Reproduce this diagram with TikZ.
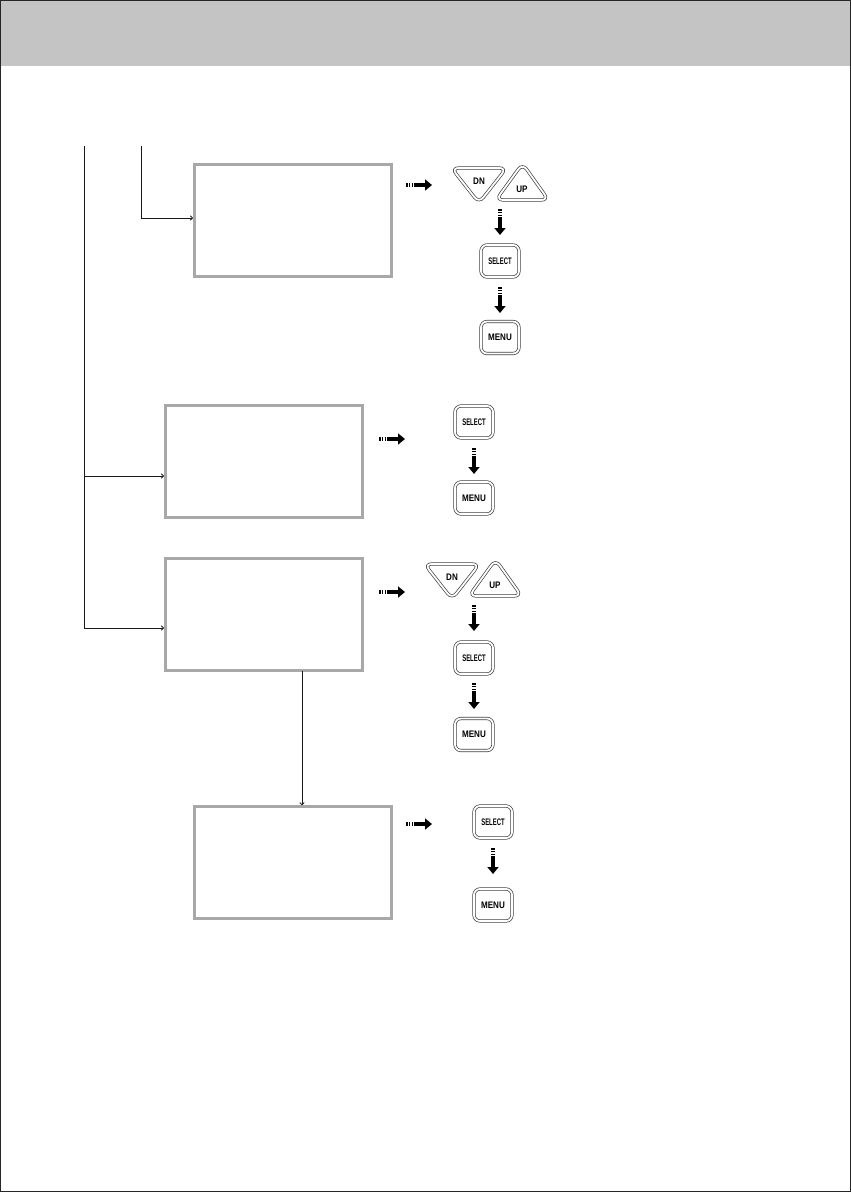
\documentclass[tikz,border=0pt]{standalone}
\usepackage{fontspec}
\setmainfont{Liberation Sans}
\usepackage{xcolor}
\usetikzlibrary{arrows.meta,calc,positioning}
\definecolor{headergray}{RGB}{196, 196, 196}
\definecolor{boxgray}{RGB}{168, 168, 168}
\tikzset{
    menubox/.style={draw=boxgray,line width=3pt,minimum width=197pt,minimum height=112.5pt,inner sep=0pt,outer sep=0pt},
    keyline/.style={draw=black!75,line width=0.7pt,double=white,double distance=1.8pt},
    keybtn/.style={keyline,rounded corners=6pt,minimum width=38pt,minimum height=32pt,inner sep=0pt,font=\bfseries\fontsize{9.5}{10}\selectfont},
    keytext/.style={inner sep=0pt,font=\bfseries\fontsize{9.5}{10}\selectfont},
    wire/.style={black!90,line width=0.8pt,-{To[length=3pt,width=5pt]}},
    fattail/.style={black,line width=4pt,dash pattern=on 1.6pt off 1.2pt},
    fathead/.style={black,line width=4pt,-{Triangle[length=7pt,width=11pt]}}
}
% SELECT is printed narrow
\newcommand{\seltext}{\raisebox{-1.2pt}{\scalebox{0.62}[1]{SELECT}}}
\newcommand{\mentext}{\raisebox{-1.2pt}{\scalebox{0.85}[1]{MENU}}}
% pair of triangle keys: name prefix, then left corner of the pair
\newcommand{\dnupkeys}[3]{
    \begin{scope}[shift={(#2,#3)}]
        \draw[keyline,rounded corners=7pt] (-1.5,1) -- (53.5,1) -- (26,36) -- cycle;
        \draw[keyline,rounded corners=7pt] (43,33) -- (95.5,33) -- (69.5,-3.5) -- cycle;
        \node[keytext] (#1dn) at (26,14) {\scalebox{0.85}[1]{DN}};
        \node[keytext] (#1up) at (69,22) {\scalebox{0.85}[1]{UP}};
    \end{scope}
}
% striped arrow between two points
\newcommand{\fatarrow}[2]{
    \draw[fattail] (#1) -- ($(#1)!0.38!(#2)$);
    \draw[fathead] ($(#1)!0.38!(#2)$) -- (#2);
}
\begin{document}
\begin{tikzpicture}[x=1pt,y=-1pt]
    \useasboundingbox (0,0) rectangle (851,1192);
    % page and header band
    \fill[headergray] (0,0) rectangle (851,66);
    \draw[black!85,line width=1pt] (0.5,0.5) rectangle (850.5,1191.5);

    % menu boxes
    \node[menubox] (box1) at (292.5,220.5) {};
    \node[menubox] (box2) at (263.5,461.5) {};
    \node[menubox] (box3) at (263.5,614.5) {};
    \node[menubox] (box4) at (292.5,862.5) {};

    % lines coming from the previous page
    \coordinate (trunk) at (84,146);
    \coordinate (feed) at (141,146);
    \draw[wire] (feed) |- ($(box1.west)+(-1,-2.5)$);
    \draw[wire] (trunk) |- ($(box2.west)+(-1,14.5)$);
    \draw[wire] (trunk) |- ($(box3.west)+(-1,13.5)$);
    \draw[wire] ($(box3.south)+(38.5,0)$) -- ($(box4.north)+(9.5,-1)$);

    % first group
    \dnupkeys{a}{453}{167}
    \node[keybtn] (sela) at (500,261) {\seltext};
    \node[keybtn] (mena) at (500,337.5) {\mentext};
    \fatarrow{406,185}{432,185}
    \fatarrow{500,209}{500,235}
    \fatarrow{500,287}{500,313}

    % second group
    \node[keybtn] (selb) at (474,422) {\seltext};
    \node[keybtn] (menb) at (474,498) {\mentext};
    \fatarrow{379,439}{405,439}
    \fatarrow{474,448}{474,474}

    % third group
    \dnupkeys{c}{426}{563}
    \node[keybtn] (selc) at (474,658) {\seltext};
    \node[keybtn] (menc) at (474,734.5) {\mentext};
    \fatarrow{379,592}{405,592}
    \fatarrow{474,605}{474,631}
    \fatarrow{474,683}{474,709}

    % fourth group
    \node[keybtn] (seld) at (493,822) {\seltext};
    \node[keybtn] (mend) at (493,905) {\mentext};
    \fatarrow{406,824}{432,824}
    \fatarrow{493,848}{493,874}
\end{tikzpicture}
\end{document}
